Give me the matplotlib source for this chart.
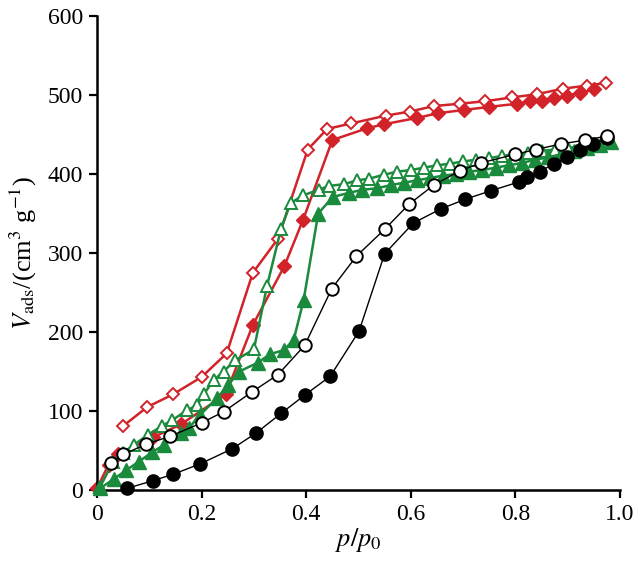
import matplotlib
matplotlib.use("Agg")
import matplotlib.pyplot as plt

# ---- data ----
# sample 1 (black), adsorption (filled) and desorption (open)
blk_ads_x = [0.057, 0.108, 0.146, 0.197, 0.258, 0.304, 0.352, 0.397, 0.446, 0.501, 0.550, 0.605,
             0.658, 0.704, 0.754, 0.807, 0.822, 0.847, 0.873, 0.898, 0.924, 0.948, 0.975]
blk_ads_y = [2, 12, 20, 33, 52, 72, 97, 120, 144, 201, 299, 338,
             356, 368, 379, 390, 396, 403, 413, 421, 430, 438, 445]
blk_des_x = [0.027, 0.050, 0.094, 0.140, 0.200, 0.242, 0.296, 0.346, 0.397, 0.449, 0.496, 0.550,
             0.597, 0.644, 0.694, 0.734, 0.800, 0.839, 0.887, 0.934, 0.975]
blk_des_y = [34, 45, 58, 68, 85, 99, 124, 146, 183, 255, 296, 330,
             362, 386, 404, 414, 425, 431, 438, 443, 448]

# sample 2 (red)
red_ads_x = [0.0, 0.022, 0.040, 0.108, 0.160, 0.246, 0.298, 0.358, 0.394, 0.450, 0.517, 0.549,
             0.612, 0.652, 0.701, 0.750, 0.804, 0.828, 0.851, 0.873, 0.898, 0.924, 0.951]
red_ads_y = [2, 32, 45, 67, 83, 121, 209, 283, 342, 443, 458, 463,
             471, 477, 481, 485, 489, 492, 493, 496, 499, 503, 507]
red_des_x = [0.050, 0.096, 0.145, 0.200, 0.248, 0.298, 0.346, 0.403, 0.440, 0.486, 0.553, 0.598,
             0.644, 0.694, 0.741, 0.794, 0.841, 0.891, 0.937, 0.973]
red_des_y = [81, 105, 121, 143, 173, 275, 318, 431, 457, 464, 474, 479,
             486, 489, 492, 497, 501, 508, 512, 515]

# sample 3 (green)
grn_ads_x = [0.006, 0.032, 0.056, 0.080, 0.106, 0.128, 0.160, 0.175, 0.197, 0.229, 0.251, 0.272,
             0.307, 0.331, 0.357, 0.376, 0.395, 0.423, 0.451, 0.481, 0.507, 0.536, 0.562, 0.587,
             0.612, 0.637, 0.662, 0.687, 0.712, 0.737, 0.762, 0.787, 0.812, 0.837, 0.862, 0.887,
             0.912, 0.937, 0.962, 0.983]
grn_ads_y = [2, 14, 25, 36, 48, 57, 72, 78, 95, 116, 133, 150,
             161, 172, 177, 190, 240, 350, 371, 376, 380, 382, 386, 389,
             392, 395, 398, 400, 403, 405, 408, 411, 414, 418, 421, 425,
             429, 433, 437, 441]
grn_des_x = [0.006, 0.030, 0.050, 0.070, 0.098, 0.124, 0.143, 0.172, 0.191, 0.205, 0.223, 0.242,
             0.264, 0.300, 0.325, 0.352, 0.370, 0.394, 0.424, 0.444, 0.472, 0.497, 0.520, 0.548,
             0.574, 0.600, 0.625, 0.650, 0.675, 0.700, 0.725, 0.750, 0.775, 0.800, 0.825, 0.850,
             0.875, 0.900, 0.925, 0.950, 0.975]
grn_des_y = [4, 35, 47, 57, 70, 81, 88, 101, 107, 122, 139, 150,
             164, 178, 258, 331, 363, 373, 380, 385, 387, 392, 394, 399,
             403, 405, 408, 411, 413, 416, 418, 420, 423, 425, 427, 429,
             431, 433, 435, 438, 440]

x_ticks = [0, 0.2, 0.4, 0.6, 0.8, 1.0]
x_tick_labels = ["0", "0.2", "0.4", "0.6", "0.8", "1.0"]
y_ticks = [0, 100, 200, 300, 400, 500, 600]

RED = "#d2232a"
GREEN = "#1a8a3c"

plt.rcParams["font.family"] = ["Liberation Serif", "DejaVu Serif"]
plt.rcParams["mathtext.fontset"] = "stix"

fig = plt.figure(figsize=(6.34, 5.64), dpi=100)
ax = fig.add_axes([97 / 634, 1 - 490 / 564, 523 / 634, 474 / 564])

# red
ax.plot(red_des_x, red_des_y, color=RED, lw=1.8, marker="D", ms=6.5,
        mfc="white", mec=RED, mew=1.4, zorder=2)
ax.plot(red_ads_x, red_ads_y, color=RED, lw=1.8, marker="D", ms=7,
        mfc=RED, mec=RED, zorder=2)
# green
ax.plot(grn_des_x, grn_des_y, color=GREEN, lw=1.8, marker="^", ms=8.5,
        mfc="white", mec=GREEN, mew=1.4, zorder=3)
ax.plot(grn_ads_x, grn_ads_y, color=GREEN, lw=1.8, marker="^", ms=10,
        mfc=GREEN, mec=GREEN, zorder=3)
# black
ax.plot(blk_ads_x, blk_ads_y, color="black", lw=1.0, marker="o", ms=9.5,
        mfc="black", mec="black", zorder=4)
ax.plot(blk_des_x, blk_des_y, color="black", lw=1.0, marker="o", ms=9,
        mfc="white", mec="black", mew=1.4, zorder=5)

ax.set_xlim(0, 1.0)
ax.set_ylim(0, 600)
ax.set_xticks(x_ticks)
ax.set_xticklabels(x_tick_labels)
ax.set_yticks(y_ticks)
for s in ("top", "right"):
    ax.spines[s].set_visible(False)
for s in ("left", "bottom"):
    ax.spines[s].set_linewidth(1.8)
ax.tick_params(axis="both", direction="out", length=6, width=1.6,
               labelsize=17, pad=4)
ax.set_xlabel(r"$p/p_0$", fontsize=19, labelpad=1)
ax.set_ylabel(r"$V_{\mathrm{ads}}$/(cm$^3$ g$^{-1}$)", fontsize=19, labelpad=6)
for m in ax.lines:
    m.set_clip_on(False)

fig.savefig("out.png", dpi=100)
